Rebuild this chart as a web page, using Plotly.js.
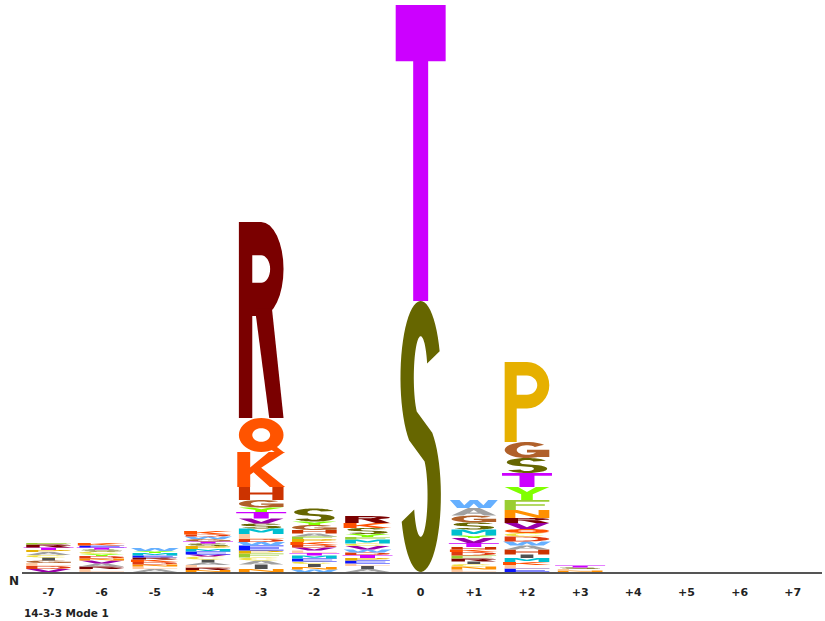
<!DOCTYPE html>
<html>
<head>
<meta charset="utf-8">
<script src="https://cdn.plot.ly/plotly-3.0.1.min.js"></script>
<style>
html,body{margin:0;padding:0;background:#fff;}
#chart{width:825px;height:621px;}
</style>
</head>
<body>
<div id="chart"></div>
<script>
// ---------------- DATA (letter stacks, bottom -> top, heights in bits) ----------------
const positionValues = [-7,-6,-5,-4,-3,-2,-1,0,1,2,3,4,5,6,7];
const positionLabels = ['-7','-6','-5','-4','-3','-2','-1','0','+1','+2','+3','+4','+5','+6','+7'];

const lettersN7 = ['V','D','L','G','I','C','A','P','T','R','F'];
const heightsN7 = [0.03,0.03,0.03,0.025,0.03,0.025,0.03,0.02,0.025,0.03,0.015];

const lettersN6 = ['L','R','A','V','N','D','Y','C','S','T','E','K'];
const heightsN6 = [0.03,0.025,0.03,0.03,0.02,0.025,0.02,0.025,0.02,0.02,0.02,0.025];

const lettersN5 = ['A','L','N','D','K','R','E','M','Y','W'];
const heightsN5 = [0.03,0.025,0.02,0.025,0.025,0.02,0.02,0.025,0.02,0.03];

const lettersN4 = ['N','R','L','A','I','C','V','E','M','P','S','T','G','W','D','K'];
const heightsN4 = [0.02,0.025,0.025,0.025,0.03,0.03,0.02,0.03,0.025,0.03,0.025,0.02,0.025,0.025,0.02,0.035];

const lettersN3 = ['N','I','A','C','F','P','E','W','D','L','M','S','V','T','Y','G','H','K','Q','R'];
const heightsN3 = [0.03,0.045,0.04,0.03,0.04,0.03,0.05,0.035,0.03,0.05,0.055,0.05,0.05,0.065,0.045,0.075,0.13,0.35,0.34,1.96];

const lettersN2 = ['W','N','I','C','E','M','T','L','V','D','K','P','F','A','H','G','Y','S'];
const heightsN2 = [0.025,0.025,0.03,0.025,0.03,0.03,0.025,0.025,0.03,0.025,0.03,0.03,0.025,0.03,0.035,0.05,0.035,0.13];

const lettersN1 = ['A','I','L','E','P','T','D','W','V','C','M','F','Y','S','K','R'];
const heightsN1 = [0.03,0.03,0.025,0.03,0.025,0.03,0.025,0.03,0.035,0.025,0.04,0.025,0.03,0.06,0.05,0.07];

const letters0 = ['S','T'];
const heights0 = [2.71,2.96];

const lettersP1 = ['L','N','C','I','R','F','D','K','H','T','V','Y','M','S','G','A','W'];
const heightsP1 = [0.025,0.03,0.025,0.025,0.03,0.03,0.035,0.025,0.025,0.04,0.05,0.025,0.06,0.07,0.07,0.075,0.08];

const lettersP2 = ['E','L','K','M','I','H','A','W','D','C','Q','V','R','N','F','Y','T','S','G','P'];
const heightsP2 = [0.035,0.035,0.03,0.04,0.035,0.05,0.04,0.04,0.05,0.035,0.04,0.06,0.05,0.08,0.10,0.13,0.14,0.15,0.16,0.80];

const lettersP3 = ['N','L','S','T'];
const heightsP3 = [0.015,0.015,0.015,0.02];

const lettersP4 = [], heightsP4 = [];
const lettersP5 = [], heightsP5 = [];
const lettersP6 = [], heightsP6 = [];
const lettersP7 = [], heightsP7 = [];

const columns = [
  [lettersN7,heightsN7],[lettersN6,heightsN6],[lettersN5,heightsN5],[lettersN4,heightsN4],
  [lettersN3,heightsN3],[lettersN2,heightsN2],[lettersN1,heightsN1],[letters0,heights0],
  [lettersP1,heightsP1],[lettersP2,heightsP2],[lettersP3,heightsP3],[lettersP4,heightsP4],
  [lettersP5,heightsP5],[lettersP6,heightsP6],[lettersP7,heightsP7]
];

// ---------------- STYLE ----------------
const aaColors = {
  A:'#a0a0a0', C:'#f0e040', D:'#e03a10', E:'#0a14ff', F:'#9acd32', G:'#b0602a',
  H:'#cc3300', I:'#505050', K:'#ff5000', L:'#ffc8a0', M:'#00c0d0', N:'#ff9000',
  P:'#e6b000', Q:'#ff5400', R:'#7a0000', S:'#666600', T:'#cc00ff', V:'#9900aa',
  W:'#66b0ff', Y:'#80ff00'
};
const widthFactor = {T:0.94, S:0.76, I:0.6, W:0.9, K:0.9};
const DEFAULT_W = 0.84;

// ---------------- GLYPHS (unit box, y up) ----------------
const SX = 0.25, SY = 0.17;
function arc(cx, cy, rx, ry, a0, a1, n){
  const pts = [];
  for (let i = 0; i <= n; i++){
    const a = (a0 + (a1 - a0) * i / n) * Math.PI / 180;
    pts.push([cx + rx * Math.cos(a), cy + ry * Math.sin(a)]);
  }
  return pts;
}
function ringArc(a0, a1, sx, sy){
  return [arc(0.5,0.5,0.5,0.5,a0,a1,28).concat(arc(0.5,0.5,0.5-sx,0.5-sy,a1,a0,28))];
}
function bowlGlyph(cy, ry, sx){
  const outer = [[0,0],[0,1],[0.5,1]].concat(arc(0.5,cy,0.5,ry,90,-90,16)).concat([[0.5,cy-ry],[sx,cy-ry],[sx,0]]);
  const inner = [[sx,1-SY],[0.5,1-SY]].concat(arc(0.5,cy,0.5-sx,ry-SY,90,-90,16)).concat([[0.5,cy-ry+SY],[sx,cy-ry+SY]]);
  return [outer, inner];
}
function ringO(sx, sy){
  return [arc(0.5,0.5,0.5,0.5,0,360,40), arc(0.5,0.5,0.5-sx,0.5-sy,0,360,40)];
}
const glyphs = {
  A: () => [[[[0,0],[0.37,1],[0.63,1],[1,0],[0.73,0],[0.65,0.24],[0.35,0.24],[0.27,0]],[[0.41,0.40],[0.59,0.40],[0.5,0.72]]]],
  C: () => [ringArc(40,320,SX,SY)],
  D: () => [[
    [[0,0],[0,1],[0.4,1]].concat(arc(0.4,0.5,0.6,0.5,90,-90,18)).concat([[0.4,0]]),
    [[SX,SY],[SX,1-SY],[0.4,1-SY]].concat(arc(0.4,0.5,0.6-SX,0.5-SY,90,-90,18)).concat([[0.4,SY]])
  ]],
  E: () => [[[[0,0],[0,1],[1,1],[1,1-SY],[SX,1-SY],[SX,0.5+SY/2],[0.9,0.5+SY/2],[0.9,0.5-SY/2],[SX,0.5-SY/2],[SX,SY],[1,SY],[1,0]]]],
  F: () => [[[[0,0],[0,1],[1,1],[1,1-SY],[SX,1-SY],[SX,0.5+SY/2],[0.9,0.5+SY/2],[0.9,0.5-SY/2],[SX,0.5-SY/2],[SX,0]]]],
  G: () => [ringArc(40,350,0.27,0.2), [[[0.5,0.52],[1,0.52],[1,0.06],[1-SX,0.06],[1-SX,0.52-SY],[0.5,0.52-SY]]]],
  H: () => [[[[0,0],[0,1],[SX,1],[SX,0.5+SY/2],[1-SX,0.5+SY/2],[1-SX,1],[1,1],[1,0],[1-SX,0],[1-SX,0.5-SY/2],[SX,0.5-SY/2],[SX,0]]]],
  I: () => [[[[0.3,0],[0.3,1],[0.7,1],[0.7,0]]]],
  K: () => [[[[0,0],[0,1],[0.27,1],[0.27,0.56],[0.66,1],[1,1],[0.5,0.55],[1,0],[0.68,0],[0.34,0.42],[0.27,0.35],[0.27,0]]]],
  L: () => [[[[0,0],[0,1],[SX,1],[SX,SY],[1,SY],[1,0]]]],
  M: () => [[[[0,0],[0,1],[0.28,1],[0.5,0.55],[0.72,1],[1,1],[1,0],[0.76,0],[0.76,0.65],[0.56,0.25],[0.44,0.25],[0.24,0.65],[0.24,0]]]],
  N: () => [[[[0,0],[0,1],[0.28,1],[0.76,0.35],[0.76,1],[1,1],[1,0],[0.72,0],[0.24,0.65],[0.24,0]]]],
  O: () => [ringO(0.3,0.3)],
  P: () => [bowlGlyph(0.71,0.29,0.27)],
  Q: () => [ringO(0.3,0.3), [[[0.58,0.2],[0.8,0.2],[1,0],[0.8,0]]]],
  R: () => [bowlGlyph(0.76,0.24,0.3), [[[0.36,0.56],[0.74,0.56],[1,0],[0.68,0]]]],
  S: () => {
    const sx = 0.33, sy = 0.13;
    const ryu = 0.25 + sy/4, yu = 1 - ryu, yl = ryu, rxi = 0.5 - sx, ryi = ryu - sy;
    const pts = arc(0.5,yu,0.5,ryu,20,235,36)
      .concat(arc(0.5,yl,rxi,ryi,55,-160,36))
      .concat(arc(0.5,yl,0.5,ryu,-160,55,36))
      .concat(arc(0.5,yu,rxi,ryi,235,20,36));
    return [[pts]];
  },
  T: () => {
    const t = 0.19, s = 0.30;
    return [[[[0,1],[1,1],[1,1-t],[0.5+s/2,1-t],[0.5+s/2,0],[0.5-s/2,0],[0.5-s/2,1-t],[0,1-t]]]];
  },
  V: () => [[[[0,1],[0.28,1],[0.5,0.3],[0.72,1],[1,1],[0.65,0],[0.35,0]]]],
  W: () => [[[[0,1],[0.2,1],[0.3,0.35],[0.42,1],[0.58,1],[0.7,0.35],[0.8,1],[1,1],[0.85,0],[0.6,0],[0.5,0.55],[0.4,0],[0.15,0]]]],
  Y: () => [[[[0,1],[0.3,1],[0.5,0.62],[0.7,1],[1,1],[0.63,0.45],[0.63,0],[0.37,0],[0.37,0.45]]]]
};

function partPath(polys, x0, w, y0, h){
  return polys.map(p => 'M' + p.map(([u,v]) =>
    (x0 + u*w).toFixed(4) + ',' + (y0 + v*h).toFixed(4)).join('L') + 'Z').join('');
}

const shapes = [];
columns.forEach(([letters, heights], ci) => {
  const xc = positionValues[ci];
  let base = 0;
  letters.forEach((aa, li) => {
    const h = heights[li];
    const w = widthFactor[aa] || DEFAULT_W;
    const parts = glyphs[aa]();
    parts.forEach(polys => {
      shapes.push({
        type:'path', xref:'x', yref:'y', layer:'above',
        path: partPath(polys, xc - w/2, w, base, h),
        fillcolor: aaColors[aa], fillrule:'evenodd',
        line:{width:0}
      });
    });
    base += h;
  });
});

const totals = columns.map(([l,h]) => h.reduce((a,b)=>a+b,0));

const trace = {
  type:'scatter', mode:'markers', x: positionValues, y: totals.map(()=>0),
  marker:{opacity:0}, hoverinfo:'skip', showlegend:false
};

const layout = {
  width:825, height:621,
  margin:{l:22, r:3, t:0, b:49},
  paper_bgcolor:'#fff', plot_bgcolor:'#fff',
  showlegend:false,
  xaxis:{
    range:[-7.5,7.55], showgrid:false, zeroline:false,
    showline:true, linecolor:'#555', linewidth:1.5,
    ticks:'outside', ticklen:9, tickcolor:'rgba(0,0,0,0)',
    tickvals: positionValues, ticktext: positionLabels,
    tickfont:{family:'DejaVu Sans', size:11, color:'#222', weight:'bold'},
    fixedrange:true
  },
  yaxis:{range:[0,5.72], visible:false, fixedrange:true},
  shapes: shapes,
  annotations:[
    {text:'N', xref:'paper', yref:'paper', x:-0.01, y:-0.016, xanchor:'center', yanchor:'middle',
     showarrow:false, font:{family:'DejaVu Sans', size:12, color:'#222', weight:'bold'}},
    {text:'14-3-3 Mode 1', xref:'paper', yref:'paper', x:0, y:-0.072, xanchor:'left', yanchor:'middle',
     showarrow:false, font:{family:'DejaVu Sans', size:10.5, color:'#222', weight:'bold'}}
  ]
};

Plotly.newPlot('chart', [trace], layout, {displayModeBar:false, staticPlot:true});
</script>
</body>
</html>
